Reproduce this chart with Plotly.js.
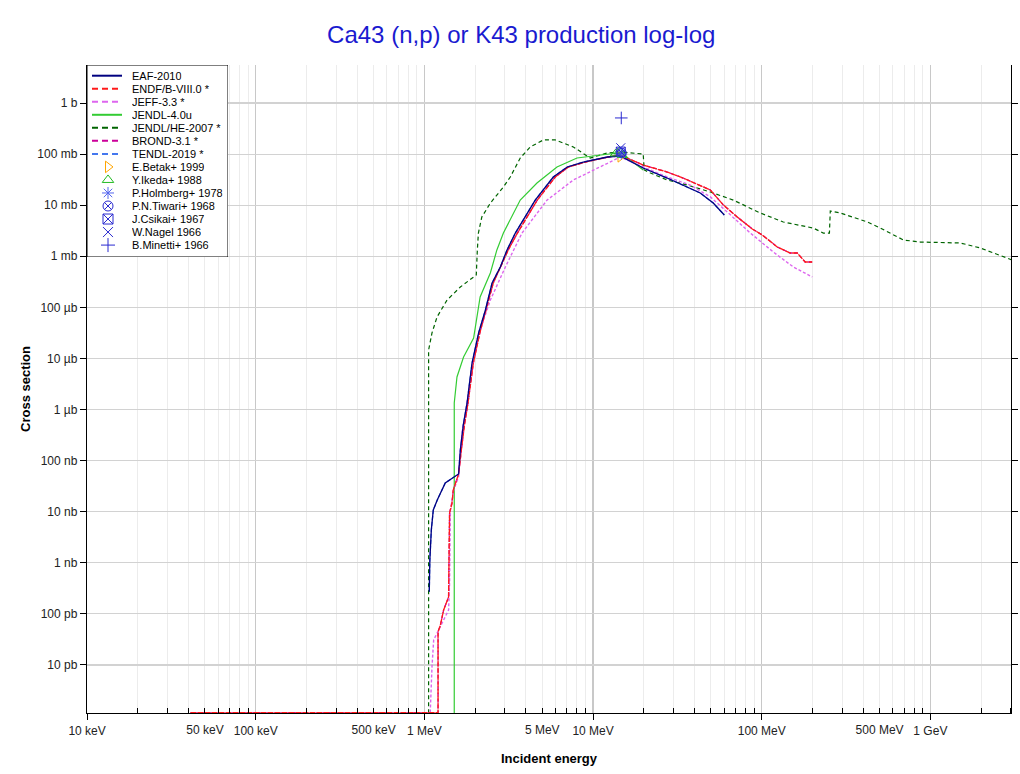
<!DOCTYPE html>
<html>
<head>
<meta charset="utf-8">
<script src="https://cdn.plot.ly/plotly-3.0.1.min.js"></script>
<style>
html,body{margin:0;padding:0;background:#fff;}
#chart{width:1020px;height:774px;}
</style>
</head>
<body>
<div id="chart"></div>
<script>
// ---- Evaluated data (energy in eV, cross section in barns) ----
const eafE  = [1.069e6,1.077e6,1.099e6,1.129e6,1.192e6,1.329e6,1.595e6,1.633e6,1.70e6,1.79e6,1.916e6,2.096e6,2.30e6,2.52e6,2.82e6,3.09e6,3.46e6,4.54e6,5.81e6,7.03e6,8.75e6,1.214e7,1.449e7,1.983e7,2.75e7,3.42e7,4.32e7,5.16e7,6.0e7];
const eafXS = [2.7e-10,1.13e-9,4.4e-9,1.08e-8,1.7e-8,3.65e-8,5.47e-8,1.61e-7,4.98e-7,1.34e-6,8.14e-6,3.15e-5,8.87e-5,3.0e-4,6.17e-4,1.33e-3,2.85e-3,1.26e-2,3.56e-2,5.59e-2,7.0e-2,8.77e-2,9.18e-2,5.34e-2,3.40e-2,2.48e-2,1.73e-2,1.10e-2,6.43e-3];

const endfE  = [4.1e4,1.205e6,1.205e6,1.242e6,1.30e6,1.391e6,1.41e6,1.458e6,1.483e6,1.595e6,1.656e6,1.727e6,1.813e6,1.95e6,2.13e6,2.56e6,3.14e6,3.56e6,4.67e6,5.97e6,7.14e6,9.0e6,1.23e7,1.449e7,1.983e7,2.75e7,3.42e7,4.96e7,5.92e7,7.16e7,8.79e7,1.007e8,1.236e8,1.475e8,1.625e8,1.81e8,1.995e8];
const endfXS = [1.16e-12,1.16e-12,4.5e-11,5.9e-11,1.19e-10,2.14e-10,9.4e-9,1.48e-8,2.66e-8,5.47e-8,1.61e-7,4.98e-7,1.34e-6,8.14e-6,3.15e-5,3.0e-4,1.33e-3,2.85e-3,1.26e-2,3.56e-2,5.59e-2,7.0e-2,8.77e-2,9.6e-2,6.11e-2,4.46e-2,3.40e-2,1.98e-2,1.01e-2,5.87e-3,3.42e-3,2.61e-3,1.52e-3,1.16e-3,1.16e-3,7.72e-4,7.72e-4];

const jeffE  = [4.1e4,1.083e6,1.109e6,1.135e6,1.214e6,1.329e6,1.391e6,1.41e6,1.426e6,1.49e6,1.595e6,1.67e6,1.79e6,1.935e6,2.11e6,2.46e6,3.02e6,3.79e6,5.34e6,7.64e6,1.003e7,1.265e7,1.449e7,1.983e7,2.75e7,3.77e7,4.96e7,6.25e7,8.56e7,1.172e8,1.54e8,1.995e8];
const jeffXS = [1.16e-12,1.16e-12,9.1e-12,3.1e-11,4.8e-11,8.7e-11,1.19e-10,4.0e-10,1.08e-8,2.66e-8,4.8e-8,3.48e-7,1.34e-6,8.14e-6,3.15e-5,1.39e-4,6.17e-4,2.85e-3,1.26e-2,3.11e-2,4.89e-2,7.0e-2,8.77e-2,5.59e-2,3.56e-2,2.48e-2,1.45e-2,7.35e-3,2.85e-3,1.21e-3,6.17e-4,3.93e-4];

const jendl4E  = [1.503e6,1.503e6,1.56e6,1.707e6,1.958e6,2.05e6,2.14e6,2.46e6,2.69e6,2.94e6,3.70e6,4.65e6,6.11e6,8.03e6,1.105e7,1.39e7,1.55e7,1.983e7];
const jendl4XS = [1e-14,1.34e-6,4.34e-6,1.07e-5,2.51e-5,6.47e-5,1.6e-4,4.71e-4,1.33e-3,2.85e-3,1.26e-2,2.72e-2,5.59e-2,8.38e-2,9.6e-2,0.105,9.18e-2,4.89e-2];

const jendlheE  = [1.059e6,1.059e6,1.109e6,1.188e6,1.362e6,1.633e6,1.958e6,2.03e6,2.06e6,2.09e6,2.19e6,2.46e6,2.94e6,3.23e6,3.70e6,4.24e6,5.07e6,5.97e6,7.64e6,9.62e6,1.214e7,1.449e7,1.983e7,2.01e7,2.19e7,2.75e7,3.62e7,4.96e7,6.78e7,9.8e7,1.342e8,1.862e8,2.02e8,2.32e8,2.52e8,2.55e8,2.93e8,4.23e8,5.05e8,6.92e8,8.72e8,1.506e9,1.98e9,3.06e9];
const jendlheXS = [1e-14,1.46e-5,3.15e-5,6.47e-5,1.39e-4,2.5e-4,3.93e-4,4.3e-4,1.33e-3,2.85e-3,5.87e-3,1.10e-2,2.27e-2,3.56e-2,8.38e-2,0.138,0.189,0.189,0.138,8.38e-2,0.105,0.110,0.1005,4.89e-2,4.26e-2,3.11e-2,2.48e-2,1.81e-2,1.26e-2,7.03e-3,4.69e-3,3.74e-3,3.57e-3,2.85e-3,2.85e-3,7.69e-3,7.03e-3,4.69e-3,3.57e-3,2.08e-3,1.9e-3,1.82e-3,1.45e-3,8.45e-4];

// BROND-3.1 and TENDL-2019 lie underneath the other evaluations
const brondE  = endfE;
const brondXS = endfXS;
const tendlE  = eafE;
const tendlXS = eafXS;

// ---- Experimental data ----
const betakE = [1.45e7],    betakXS = [0.088];
const ikedaE = [1.36e7,1.43e7,1.49e7], ikedaXS = [0.102,0.112,0.095];
const holmbergE = [1.47e7], holmbergXS = [0.100];
const tiwariE = [1.48e7],   tiwariXS = [0.106];
const csikaiE = [1.46e7],   csikaiXS = [0.112];
const nagelE = [1.46e7],    nagelXS = [0.133];
const minettiE = [1.47e7],  minettiXS = [0.51];

// ---- Tick labels ----
const xMajorVals = [1e4,1e5,1e6,1e7,1e8,1e9];
const xMajorText = ['10 keV','100 keV','1 MeV','10 MeV','100 MeV','1 GeV'];
const xExtraVals = [5e4,5e5,5e6,5e8];
const xExtraText = ['50 keV','500 keV','5 MeV','500 MeV'];
const yVals = [1e-11,1e-10,1e-9,1e-8,1e-7,1e-6,1e-5,1e-4,1e-3,1e-2,1e-1,1];
const yText = ['10 pb','100 pb','1 nb','10 nb','100 nb','1 µb','10 µb','100 µb','1 mb','10 mb','100 mb','1 b'];

const minorVals = [];
for (let k = 4; k <= 9; k++) for (let m = 2; m <= 9; m++) minorVals.push(m * Math.pow(10, k));

const FONT = 'Liberation Sans, Arial, sans-serif';
const BLUE = '#2a2ad0';

// ---- Series styles (legend order) ----
const series = [
  {name:'EAF-2010',        kind:'line', color:'#000080', dash:'solid',   lw:1.3},
  {name:'ENDF/B-VIII.0 *', kind:'line', color:'#ff1a1a', dash:'6px,1px', lw:1.3},
  {name:'JEFF-3.3 *',      kind:'line', color:'#dd66ee', dash:'3px,2px', lw:1.4},
  {name:'JENDL-4.0u',      kind:'line', color:'#33cc33', dash:'solid',   lw:1.2},
  {name:'JENDL/HE-2007 *', kind:'line', color:'#006400', dash:'4px,3px', lw:1.2},
  {name:'BROND-3.1 *',     kind:'line', color:'#cc0099', dash:'4px,2px', lw:1.3},
  {name:'TENDL-2019 *',    kind:'line', color:'#4477ee', dash:'4px,2px', lw:1.3},
  {name:'E.Betak+ 1999',    kind:'mark', color:'#ffa500', symbol:'triangle-right-open'},
  {name:'Y.Ikeda+ 1988',    kind:'mark', color:'#22bb22', symbol:'triangle-up-open'},
  {name:'P.Holmberg+ 1978', kind:'mark', color:'#5566ee', symbol:'asterisk-open'},
  {name:'P.N.Tiwari+ 1968', kind:'mark', color:BLUE,      symbol:'circle-x-open'},
  {name:'J.Csikai+ 1967',   kind:'mark', color:BLUE,      symbol:'square-x-open'},
  {name:'W.Nagel 1966',     kind:'mark', color:BLUE,      symbol:'x-thin-open'},
  {name:'B.Minetti+ 1966',  kind:'mark', color:BLUE,      symbol:'cross-thin-open'}
];
const seriesData = [
  [eafE, eafXS], [endfE, endfXS], [jeffE, jeffXS], [jendl4E, jendl4XS], [jendlheE, jendlheXS],
  [brondE, brondXS], [tendlE, tendlXS],
  [betakE, betakXS], [ikedaE, ikedaXS], [holmbergE, holmbergXS], [tiwariE, tiwariXS],
  [csikaiE, csikaiXS], [nagelE, nagelXS], [minettiE, minettiXS]
];
// drawing order: hidden evaluations first
const drawOrder = [5, 6, 4, 3, 2, 1, 0, 7, 8, 9, 10, 11, 12, 13];

const traces = drawOrder.map(i => {
  const s = series[i], d = seriesData[i];
  if (s.kind === 'line') {
    return {type:'scatter', mode:'lines', name:s.name, x:d[0], y:d[1], showlegend:false,
            line:{color:s.color, dash:s.dash, width:s.lw}, hoverinfo:'skip'};
  }
  return {type:'scatter', mode:'markers', name:s.name, x:d[0], y:d[1], showlegend:false,
          marker:{symbol:s.symbol, size:9, color:s.color, line:{color:s.color, width:1}}, hoverinfo:'skip'};
});
// empty trace so the secondary label axis is drawn
traces.push({type:'scatter', mode:'lines', x:[], y:[], xaxis:'x2', yaxis:'y', showlegend:false, hoverinfo:'skip'});

// ---- Legend key: its own small subplot (x3/y3) measured in pixels ----
const PL = 87, PR = 1011, PT = 65, PB = 713;
const px2x = p => (p - PL) / (PR - PL);
const py2y = p => (PB - p) / (PB - PT);
const LG = {left:87, right:228, top:65, bottom:257, row0:75.7, rowStep:13.03,
            lineX0:92, lineX1:122, markX:108, textX:131};
const rowY = i => LG.row0 + i * LG.rowStep;

const markIdx = series.map((s, i) => i).filter(i => series[i].kind === 'mark');
traces.push({type:'scatter', mode:'markers', xaxis:'x3', yaxis:'y3', showlegend:false, hoverinfo:'skip',
             cliponaxis:false,
             x: markIdx.map(() => LG.markX), y: markIdx.map(rowY),
             marker:{symbol: markIdx.map(i => series[i].symbol), size:10,
                     color: markIdx.map(i => series[i].color),
                     line:{color: markIdx.map(i => series[i].color), width:1}}});

const shapes = [{type:'rect', xref:'x3', yref:'y3', x0:LG.left, x1:LG.right, y0:LG.top, y1:LG.bottom,
                 line:{color:'#000', width:1}, fillcolor:'#fff', layer:'between'}];
const annotations = [];
series.forEach((s, i) => {
  const yy = rowY(i);
  if (s.kind === 'line') {
    shapes.push({type:'line', xref:'x3', yref:'y3', x0:LG.lineX0, x1:LG.lineX1, y0:yy, y1:yy,
                 line:{color:s.color, width:2, dash: s.dash === 'solid' ? 'solid' : '6px,4px'}, layer:'above'});
  }
  annotations.push({xref:'x3', yref:'y3', x:LG.textX, y:yy, xanchor:'left', yanchor:'middle',
                    text:s.name, showarrow:false, height:12, borderpad:0,
                    font:{family:FONT, size:11, color:'#000'}});
});

const xRange = [4 - 0.0005, 9.478];
const yRange = [-11.94, 0.744];

const layout = {
  width:1020, height:774,
  margin:{l:PL, r:1020-PR, t:PT, b:774-PB, pad:0},
  paper_bgcolor:'#fff', plot_bgcolor:'#fff',
  font:{family:FONT, size:12, color:'#222'},
  title:{text:'Ca43 (n,p) or K43 production log-log', font:{family:FONT, size:24, color:'#1a1ad0'},
         xref:'container', x:0.511, xanchor:'center', yref:'container', y:1-35/774, yanchor:'middle'},
  showlegend:false,
  shapes, annotations,
  xaxis:{type:'log', range:xRange, tickmode:'array', tickvals:xMajorVals, ticktext:xMajorText,
         showgrid:true, gridcolor:'#c8c8c8', gridwidth:1.2, zeroline:false,
         showline:true, linecolor:'#000', linewidth:1.2, mirror:false,
         ticks:'outside', ticklen:6, tickcolor:'#000', tickwidth:1,
         tickfont:{family:FONT, size:12, color:'#222'},
         minor:{tickmode:'array', tickvals:minorVals, ticks:'inside', ticklen:5, tickcolor:'#000', tickwidth:1,
                showgrid:true, gridcolor:'#ececec', gridwidth:1},
         title:{text:'Incident energy', font:{family:FONT, size:13, color:'#000', weight:'bold'}, standoff:17}},
  xaxis2:{type:'log', overlaying:'x', anchor:'y', side:'bottom', range:xRange,
          tickmode:'array', tickvals:xExtraVals, ticktext:xExtraText,
          showgrid:false, zeroline:false, showline:false, ticks:'outside', ticklen:6, tickcolor:'rgba(0,0,0,0)',
          tickfont:{family:FONT, size:12, color:'#222'}},
  yaxis:{type:'log', range:yRange, tickmode:'array', tickvals:yVals, ticktext:yText,
         showgrid:true, gridcolor:'#d2d2d2', gridwidth:1.2, zeroline:false,
         showline:true, linecolor:'#000', linewidth:1.2, mirror:'ticks',
         ticks:'outside', ticklen:6, tickcolor:'#000', tickwidth:1,
         tickfont:{family:FONT, size:12, color:'#222'},
         title:{text:'Cross section', font:{family:FONT, size:13, color:'#000', weight:'bold'}, standoff:3}},
  xaxis3:{domain:[px2x(LG.left), px2x(LG.right)], range:[LG.left, LG.right], anchor:'y3',
          visible:false, showgrid:false, zeroline:false, fixedrange:true},
  yaxis3:{domain:[py2y(LG.bottom), py2y(LG.top)], range:[LG.bottom, LG.top], anchor:'x3',
          visible:false, showgrid:false, zeroline:false, fixedrange:true}
};

Plotly.newPlot('chart', traces, layout, {displayModeBar:false, staticPlot:true});
</script>
</body>
</html>
